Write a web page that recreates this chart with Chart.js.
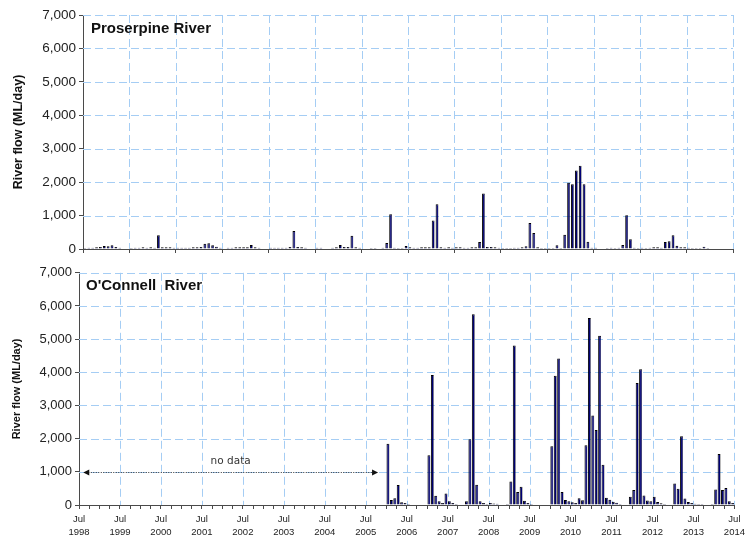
<!DOCTYPE html>
<html>
<head>
<meta charset="utf-8">
<script src="https://cdn.jsdelivr.net/npm/chart.js@4.4.0/dist/chart.umd.min.js"></script>
<style>
  body { margin: 0; background: #fff; }
  #wrap { position: relative; width: 749px; height: 541px; }
  #wrap canvas { position: absolute; left: 0; }
  #topChart { top: 0; }
  #bottomChart { top: 262px; }
</style>
</head>
<body>
<div id="wrap">
  <canvas id="topChart" width="749" height="262"></canvas>
  <canvas id="bottomChart" width="749" height="279"></canvas>
</div>
<script>
// Proserpine River, monthly flow (ML/day), 14 years of months (gridline every 12)
const proserpineFlow = [
  30, 40, 40, 50, 60, 90, 80, 110, 60, 40, 0, 0,
  30, 40, 40, 50, 40, 50, 40, 410, 50, 50, 50, 40,
  40, 40, 40, 40, 50, 50, 60, 160, 170, 110, 70, 40,
  0, 40, 40, 50, 50, 50, 50, 120, 50, 40, 0, 0,
  40, 40, 40, 40, 40, 60, 540, 60, 50, 40, 0, 0,
  40, 40, 0, 0, 40, 50, 120, 60, 60, 400, 50, 40,
  0, 0, 30, 30, 0, 40, 180, 1040, 40, 30, 30, 90,
  50, 40, 40, 50, 50, 50, 850, 1340, 50, 40, 50, 40,
  50, 50, 40, 40, 50, 50, 210, 1660, 60, 60, 50, 40,
  30, 30, 30, 40, 40, 50, 80, 780, 480, 50, 30, 30,
  30, 30, 110, 30, 430, 1980, 1940, 2350, 2490, 1940, 220, 40,
  40, 0, 0, 30, 40, 30, 40, 120, 1010, 290, 40, 30,
  40, 30, 40, 50, 50, 40, 210, 230, 410, 100, 50, 50,
  40, 30, 30, 30, 70, 30, null, null, null, null, null, null
];
const proserpineMonths = 168;

// O'Connell River, monthly flow (ML/day), Jan 2006 - Jun 2014
const oconnellFlow = [
  1850, 150, 200, 600, 80, 60, 30, 0, 0, 0, 0, 0,          // 2006
  1500, 3920, 280, 110, 60, 350, 110, 60, 30, 0, 0, 110,   // 2007
  1980, 5750, 610, 110, 60, 30, 60, 45, 40, 0, 0, 30,      // 2008
  710, 4810, 390, 550, 130, 60, 30, 0, 0, 0, 0, 0,         // 2009
  1770, 3900, 4420, 390, 150, 110, 80, 60, 200, 140, 1800, 5640, // 2010
  2700, 2260, 5100, 1210, 215, 155, 100, 70, 30, 0, 0, 245,      // 2011
  450, 3680, 4090, 285, 135, 110, 245, 90, 50, 30, 0, 0,   // 2012
  645, 490, 2070, 195, 90, 60, 40, 30, 30, 0, 0, 30,       // 2013
  470, 1535, 450, 510, 110, 60                             // 2014
];
const oconnellFirstMonth = 90;   // months after Jul 1998 (Jan 2006)
const oconnellMonths = 192;      // Jul 1998 - Jul 2014

// bottom axis labels
const tickMonth = 'Jul';
const yearLabels = ['1998', '1999', '2000', '2001', '2002', '2003', '2004', '2005',
  '2006', '2007', '2008', '2009', '2010', '2011', '2012', '2013', '2014'];

// "no data" span (months after Jul 1998) and its height
const noDataFrom = 1.25;
const noDataTo = 87.6;
const noDataLevel = 1000;

const flowMax = 7000;
const flowStep = 1000;

const gridBlue = '#a5cdf4';
const axisGrey = '#4a4a4a';
const barFill = '#000075';
const sans = '"Liberation Sans", Arial, sans-serif';

// dashed blue grid, drawn under the bars
const dashedGrid = {
  id: 'dashedGrid',
  beforeDatasetsDraw(chart, args, opts) {
    const { ctx, chartArea: a, scales: { x, y } } = chart;
    const line = (x1, y1, x2, y2) => {
      ctx.beginPath(); ctx.moveTo(x1, y1); ctx.lineTo(x2, y2); ctx.stroke();
    };
    ctx.save();
    ctx.strokeStyle = gridBlue;
    ctx.lineWidth = 1;
    ctx.setLineDash([8, 4]);
    y.ticks.forEach(t => {
      if (t.value === 0) return;
      const py = Math.round(y.getPixelForValue(t.value)) + 0.5;
      line(a.left, py, a.right, py);
    });
    x.ticks.forEach(t => {
      if (t.value === 0 || t.value % opts.every !== 0) return;
      const px = Math.round(x.getPixelForValue(t.value)) + 0.5;
      line(px, a.top, px, a.bottom);
    });
    ctx.restore();
  }
};

const panelLabel = {
  id: 'panelLabel',
  afterDraw(chart, args, opts) {
    const { ctx, chartArea } = chart;
    ctx.save();
    ctx.font = 'bold 15px ' + sans;
    ctx.fillStyle = '#111';
    ctx.textBaseline = 'middle';
    ctx.fillText(opts.text, chartArea.left + opts.dx, chartArea.top + opts.dy);
    ctx.restore();
  }
};

const noDataArrow = {
  id: 'noDataArrow',
  afterDatasetsDraw(chart, args, opts) {
    if (!opts.text) return;
    const { ctx, scales: { x, y } } = chart;
    const x0 = x.getPixelForValue(opts.from);
    const x1 = x.getPixelForValue(opts.to);
    const yy = Math.round(y.getPixelForValue(opts.level)) + 0.5;
    ctx.save();
    ctx.strokeStyle = '#333';
    ctx.lineWidth = 1;
    ctx.setLineDash([1, 1.5]);
    ctx.beginPath();
    ctx.moveTo(x0 + 5, yy);
    ctx.lineTo(x1 - 5, yy);
    ctx.stroke();
    ctx.setLineDash([]);
    ctx.fillStyle = '#111';
    ctx.beginPath();
    ctx.moveTo(x0, yy); ctx.lineTo(x0 + 6, yy - 3); ctx.lineTo(x0 + 6, yy + 3);
    ctx.closePath(); ctx.fill();
    ctx.beginPath();
    ctx.moveTo(x1, yy); ctx.lineTo(x1 - 6, yy - 3); ctx.lineTo(x1 - 6, yy + 3);
    ctx.closePath(); ctx.fill();
    ctx.font = '10.5px "DejaVu Sans", sans-serif';
    ctx.fillStyle = '#333';
    ctx.textAlign = 'center';
    ctx.textBaseline = 'middle';
    ctx.fillText(opts.text, (x0 + x1) / 2, yy - 11);
    ctx.restore();
  }
};

function flowAxis(tickSize, titleSize, titlePad, width) {
  return {
    min: 0,
    max: flowMax,
    ticks: {
      stepSize: flowStep,
      color: '#222',
      padding: 3,
      font: { family: sans, size: tickSize },
      callback: v => v.toLocaleString('en-US'),
    },
    grid: { drawOnChartArea: false, tickColor: axisGrey, tickLength: 4 },
    border: { color: axisGrey },
    title: {
      display: true,
      text: 'River flow (ML/day)',
      color: '#111',
      font: { family: sans, size: titleSize, weight: 'bold' },
      padding: { top: titlePad, bottom: 0 },
    },
    afterFit: s => { s.width = width; },
  };
}

// top panel: Proserpine
new Chart(document.getElementById('topChart'), {
  type: 'bar',
  data: {
    datasets: [{
      data: proserpineFlow.map((v, i) => ({ x: i + 0.5, y: v })),
      backgroundColor: barFill,
      borderColor: '#000',
      borderWidth: { top: 1, left: 1, right: 0.5, bottom: 0 },
      barPercentage: 0.72,
      categoryPercentage: 1,
    }],
  },
  options: {
    responsive: false,
    animation: false,
    devicePixelRatio: 1,
    layout: { autoPadding: false, padding: { top: 15, right: 16, left: 0, bottom: 0 } },
    plugins: {
      legend: { display: false },
      tooltip: { enabled: false },
      dashedGrid: { every: 12 },
      panelLabel: { text: 'Proserpine River', dx: 8, dy: 14 },
      noDataArrow: {},
    },
    scales: {
      x: {
        type: 'linear',
        min: 0,
        max: proserpineMonths,
        offset: false,
        ticks: { stepSize: 12, display: false },
        grid: { drawOnChartArea: false, tickColor: axisGrey, tickLength: 4, offset: false },
        border: { color: axisGrey },
        afterFit: s => { s.height = 13; },
      },
      y: flowAxis(13.5, 12.5, 11, 83),
    },
  },
  plugins: [dashedGrid, panelLabel, noDataArrow],
});

// bottom panel: O'Connell
new Chart(document.getElementById('bottomChart'), {
  type: 'bar',
  data: {
    datasets: [{
      data: oconnellFlow.map((v, i) => ({ x: oconnellFirstMonth + i + 0.5, y: v })),
      backgroundColor: barFill,
      borderColor: '#000',
      borderWidth: { top: 1, left: 1, right: 0.5, bottom: 0 },
      barPercentage: 0.85,
      categoryPercentage: 1,
    }],
  },
  options: {
    responsive: false,
    animation: false,
    devicePixelRatio: 1,
    layout: { autoPadding: false, padding: { top: 5, right: 12, left: 0, bottom: 0 } },
    plugins: {
      legend: { display: false },
      tooltip: { enabled: false },
      dashedGrid: { every: 12 },
      panelLabel: { text: "O'Connell  River", dx: 7, dy: 13 },
      noDataArrow: { text: 'no data', from: noDataFrom, to: noDataTo, level: noDataLevel },
    },
    scales: {
      x: {
        type: 'linear',
        min: 0,
        max: oconnellMonths,
        offset: false,
        ticks: {
          stepSize: 3,
          autoSkip: false,
          maxRotation: 0,
          padding: 4,
          color: '#222',
          font: { family: sans, size: 9.5, lineHeight: 1.35 },
          callback: v => (v % 12 === 0 ? [tickMonth, yearLabels[v / 12]] : ''),
        },
        grid: { drawOnChartArea: false, tickColor: axisGrey, tickLength: 4, offset: false },
        border: { color: axisGrey },
        afterFit: s => { s.height = 36; },
      },
      y: flowAxis(13, 11, 10.5, 79),
    },
  },
  plugins: [dashedGrid, panelLabel, noDataArrow],
});
</script>
</body>
</html>
